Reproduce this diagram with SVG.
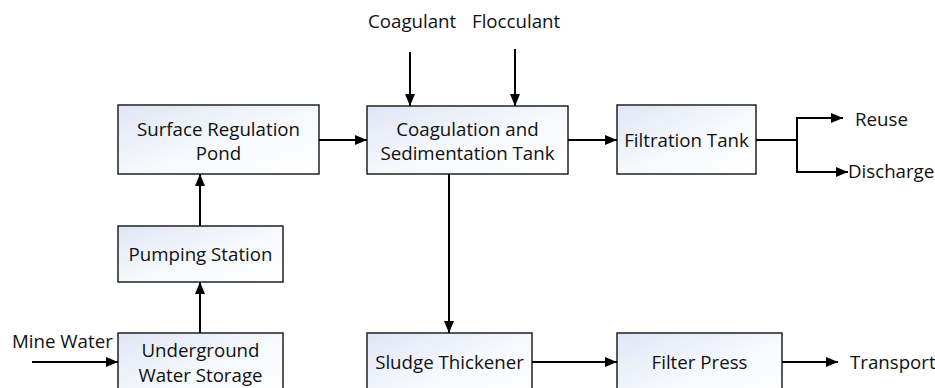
<svg xmlns="http://www.w3.org/2000/svg" width="935" height="388" viewBox="0 0 935 388">
<defs>
<linearGradient id="g" x1="0" y1="0" x2="1" y2="1">
<stop offset="0" stop-color="#dfe6f4"/>
<stop offset="0.55" stop-color="#f7f9fd"/>
<stop offset="1" stop-color="#ffffff"/>
</linearGradient>
<marker id="ah" viewBox="0 0 12 10" refX="12" refY="5" markerWidth="12" markerHeight="10" markerUnits="userSpaceOnUse" orient="auto">
<path d="M0,0 L12,5 L0,10 z" fill="#000"/>
</marker>
</defs>
<style>
.box{fill:url(#g);stroke:#222;stroke-width:1.5}
text{font-family:"Open Sans","Noto Sans","Liberation Sans",sans-serif;font-size:18.7px;fill:#111}
.c{text-anchor:middle}
.ln{stroke:#000;stroke-width:2;fill:none}
.ar{stroke:#000;stroke-width:2;fill:none;marker-end:url(#ah)}
</style>
<rect width="935" height="388" fill="#fff"/>
<g id="surface">
<rect class="box" x="118" y="105" width="201" height="69"/>
<text class="c" x="218.5" y="136">Surface Regulation</text>
<text class="c" x="218.5" y="160">Pond</text>
</g>
<g id="coag">
<rect class="box" x="367" y="106" width="201" height="68"/>
<text class="c" x="467.5" y="136">Coagulation and</text>
<text class="c" x="467.5" y="160">Sedimentation Tank</text>
</g>
<g id="filtration">
<rect class="box" x="617" y="105" width="139" height="69"/>
<text class="c" x="686.5" y="147">Filtration Tank</text>
</g>
<g id="pumping">
<rect class="box" x="118" y="226" width="165" height="56"/>
<text class="c" x="200.5" y="261">Pumping Station</text>
</g>
<g id="underground">
<rect class="box" x="118" y="333" width="165" height="70"/>
<text class="c" x="200.5" y="357">Underground</text>
<text class="c" x="200.5" y="382">Water Storage</text>
</g>
<g id="thickener">
<rect class="box" x="367" y="333" width="165" height="70"/>
<text class="c" x="449.5" y="369">Sludge Thickener</text>
</g>
<g id="press">
<rect class="box" x="617" y="333" width="165" height="70"/>
<text class="c" x="699.5" y="369">Filter Press</text>
</g>
<g id="labels">
<text x="368" y="28">Coagulant</text>
<text x="472" y="28">Flocculant</text>
<text x="12" y="348">Mine Water</text>
<text x="855" y="126">Reuse</text>
<text x="848" y="178">Discharge</text>
<text x="850" y="369">Transport</text>
</g>
<g id="connectors">
<line class="ar" x1="32" y1="362" x2="118" y2="362"/>
<line class="ar" x1="200" y1="333" x2="200" y2="282"/>
<line class="ar" x1="200" y1="226" x2="200" y2="174"/>
<line class="ar" x1="319" y1="140" x2="367" y2="140"/>
<line class="ar" x1="568" y1="140" x2="617" y2="140"/>
<line class="ar" x1="410" y1="52" x2="410" y2="106"/>
<line class="ar" x1="515" y1="49" x2="515" y2="106"/>
<line class="ln" x1="756" y1="140" x2="797" y2="140"/>
<path class="ar" d="M797,140 V118 H843"/>
<path class="ar" d="M797,140 V172 H848"/>
<line class="ar" x1="449" y1="174" x2="449" y2="333"/>
<line class="ar" x1="532" y1="362" x2="617" y2="362"/>
<line class="ar" x1="782" y1="362" x2="838" y2="362"/>
</g>
</svg>
